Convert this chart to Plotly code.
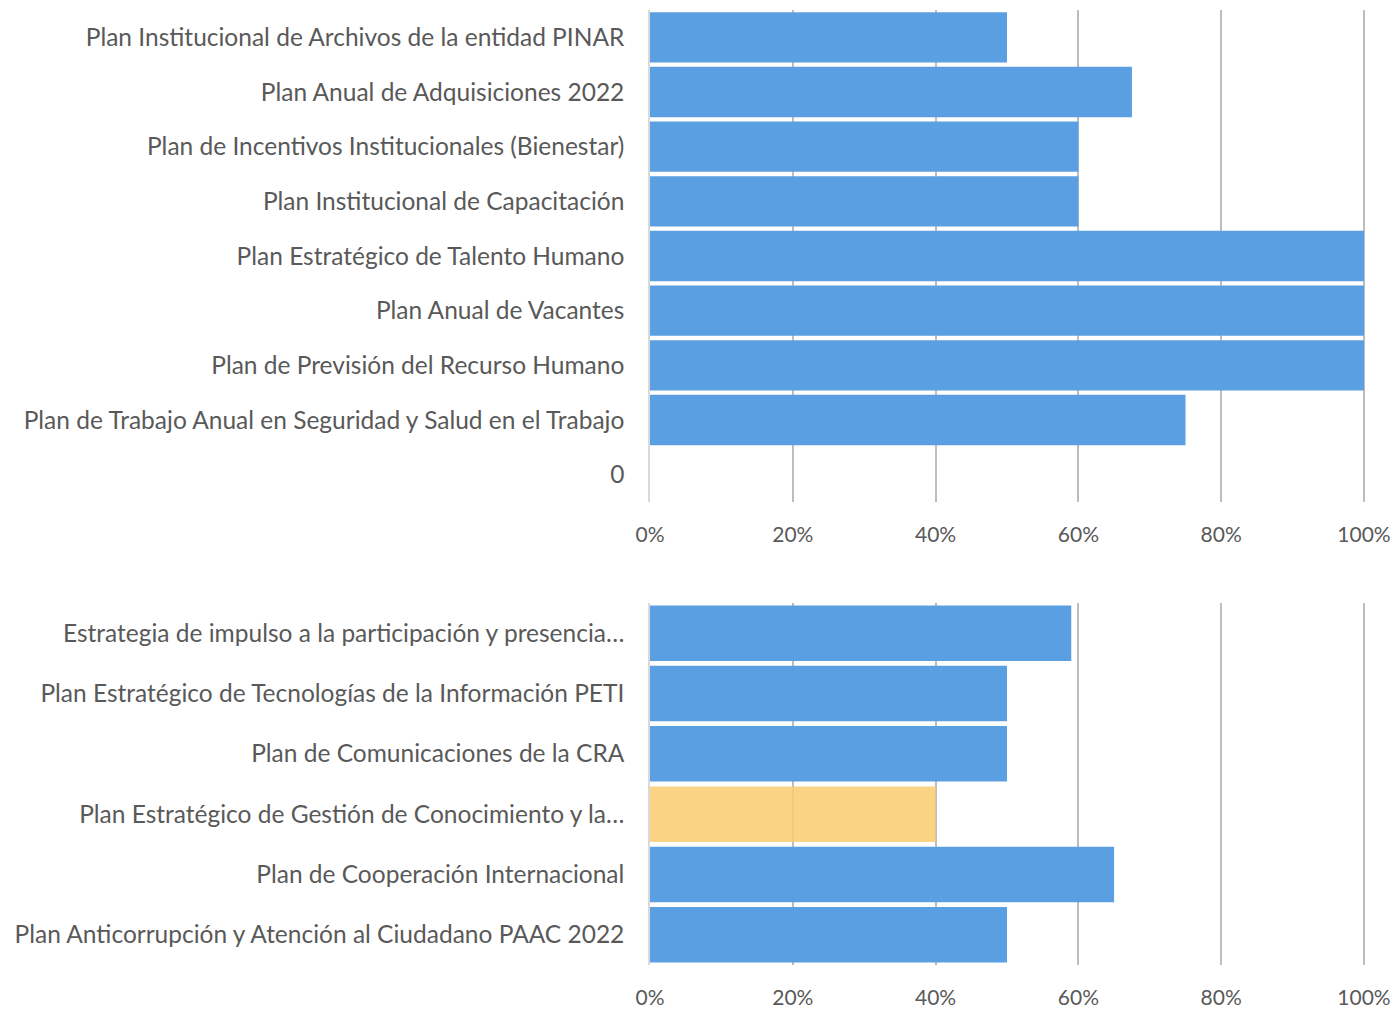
import plotly.graph_objects as go

# Top chart (listed top to bottom)
top_categories = [
    "Plan Institucional de Archivos de la entidad PINAR",
    "Plan Anual de Adquisiciones 2022",
    "Plan de Incentivos Institucionales (Bienestar)",
    "Plan Institucional de Capacitación",
    "Plan Estratégico de Talento Humano",
    "Plan Anual de Vacantes",
    "Plan de Previsión del Recurso Humano",
    "Plan de Trabajo Anual en Seguridad y Salud en el Trabajo",
    "0",
]
top_values = [0.50, 0.675, 0.60, 0.60, 1.00, 1.00, 1.00, 0.75, None]

# Bottom chart (listed top to bottom)
bottom_categories = [
    "Estrategia de impulso a la participación y presencia…",
    "Plan Estratégico de Tecnologías de la Información PETI",
    "Plan de Comunicaciones de la CRA",
    "Plan Estratégico de Gestión de Conocimiento y la…",
    "Plan de Cooperación Internacional",
    "Plan Anticorrupción y Atención al Ciudadano PAAC 2022",
]
bottom_values = [0.59, 0.50, 0.50, 0.40, 0.65, 0.50]

x_ticks = [0, 0.2, 0.4, 0.6, 0.8, 1.0]
x_tick_labels = ["0%", "20%", "40%", "60%", "80%", "100%"]

BLUE = "#5B9FE3"
YELLOW = "rgba(251,205,115,0.88)"
bottom_colors = [YELLOW if "Conocimiento" in c else BLUE for c in bottom_categories]

W, H = 1396, 1009
X_MAX = 1.005  # a little room past 100% so its gridline is drawn

def px_x(p):
    return p / W

def px_y(p):
    return 1 - p / H

fig = go.Figure()
fig.add_trace(go.Bar(y=top_categories, x=top_values, orientation="h",
                     marker=dict(color=BLUE, line=dict(width=0)),
                     xaxis="x", yaxis="y", hoverinfo="x+y"))
fig.add_trace(go.Bar(y=bottom_categories, x=bottom_values, orientation="h",
                     marker=dict(color=bottom_colors, line=dict(width=0)),
                     xaxis="x2", yaxis="y2", hoverinfo="x+y"))

FAM = "Lato, Open Sans, Liberation Sans, sans-serif"
FONT = dict(family=FAM, size=24.5, color="#595959")
TICKFONT = dict(family=FAM, size=21, color="#595959")

xcommon = dict(range=[0, X_MAX], tickvals=x_ticks, ticktext=x_tick_labels,
               showgrid=True, gridcolor="#BDBDBD", gridwidth=1.5,
               zeroline=False, showline=False, tickfont=TICKFONT,
               ticks="", ticklabelstandoff=18, automargin=False,
               ticklabeloverflow="allow",
               domain=[px_x(650), px_x(650 + 714 * X_MAX)], fixedrange=True)
ycommon = dict(type="category", autorange="reversed", showgrid=False,
               zeroline=False, showline=True, linecolor="#D9D9D9", linewidth=1.5,
               ticks="", tickfont=FONT, ticklabelstandoff=19, automargin=False,
               fixedrange=True)

fig.update_layout(
    width=W, height=H,
    margin=dict(l=0, r=0, t=0, b=0),
    paper_bgcolor="white", plot_bgcolor="white",
    showlegend=False, bargap=0.08,
    xaxis=dict(anchor="y", **xcommon),
    yaxis=dict(anchor="x", domain=[px_y(502), px_y(10)], **ycommon),
    xaxis2=dict(anchor="y2", **xcommon),
    yaxis2=dict(anchor="x2", domain=[px_y(965), px_y(603)], **ycommon),
)

fig.write_html(
    "out.html",
    config={"displayModeBar": False},
    post_script="document.body.style.margin='0';document.body.style.overflow='hidden';"
                "document.documentElement.style.overflow='hidden';",
)
